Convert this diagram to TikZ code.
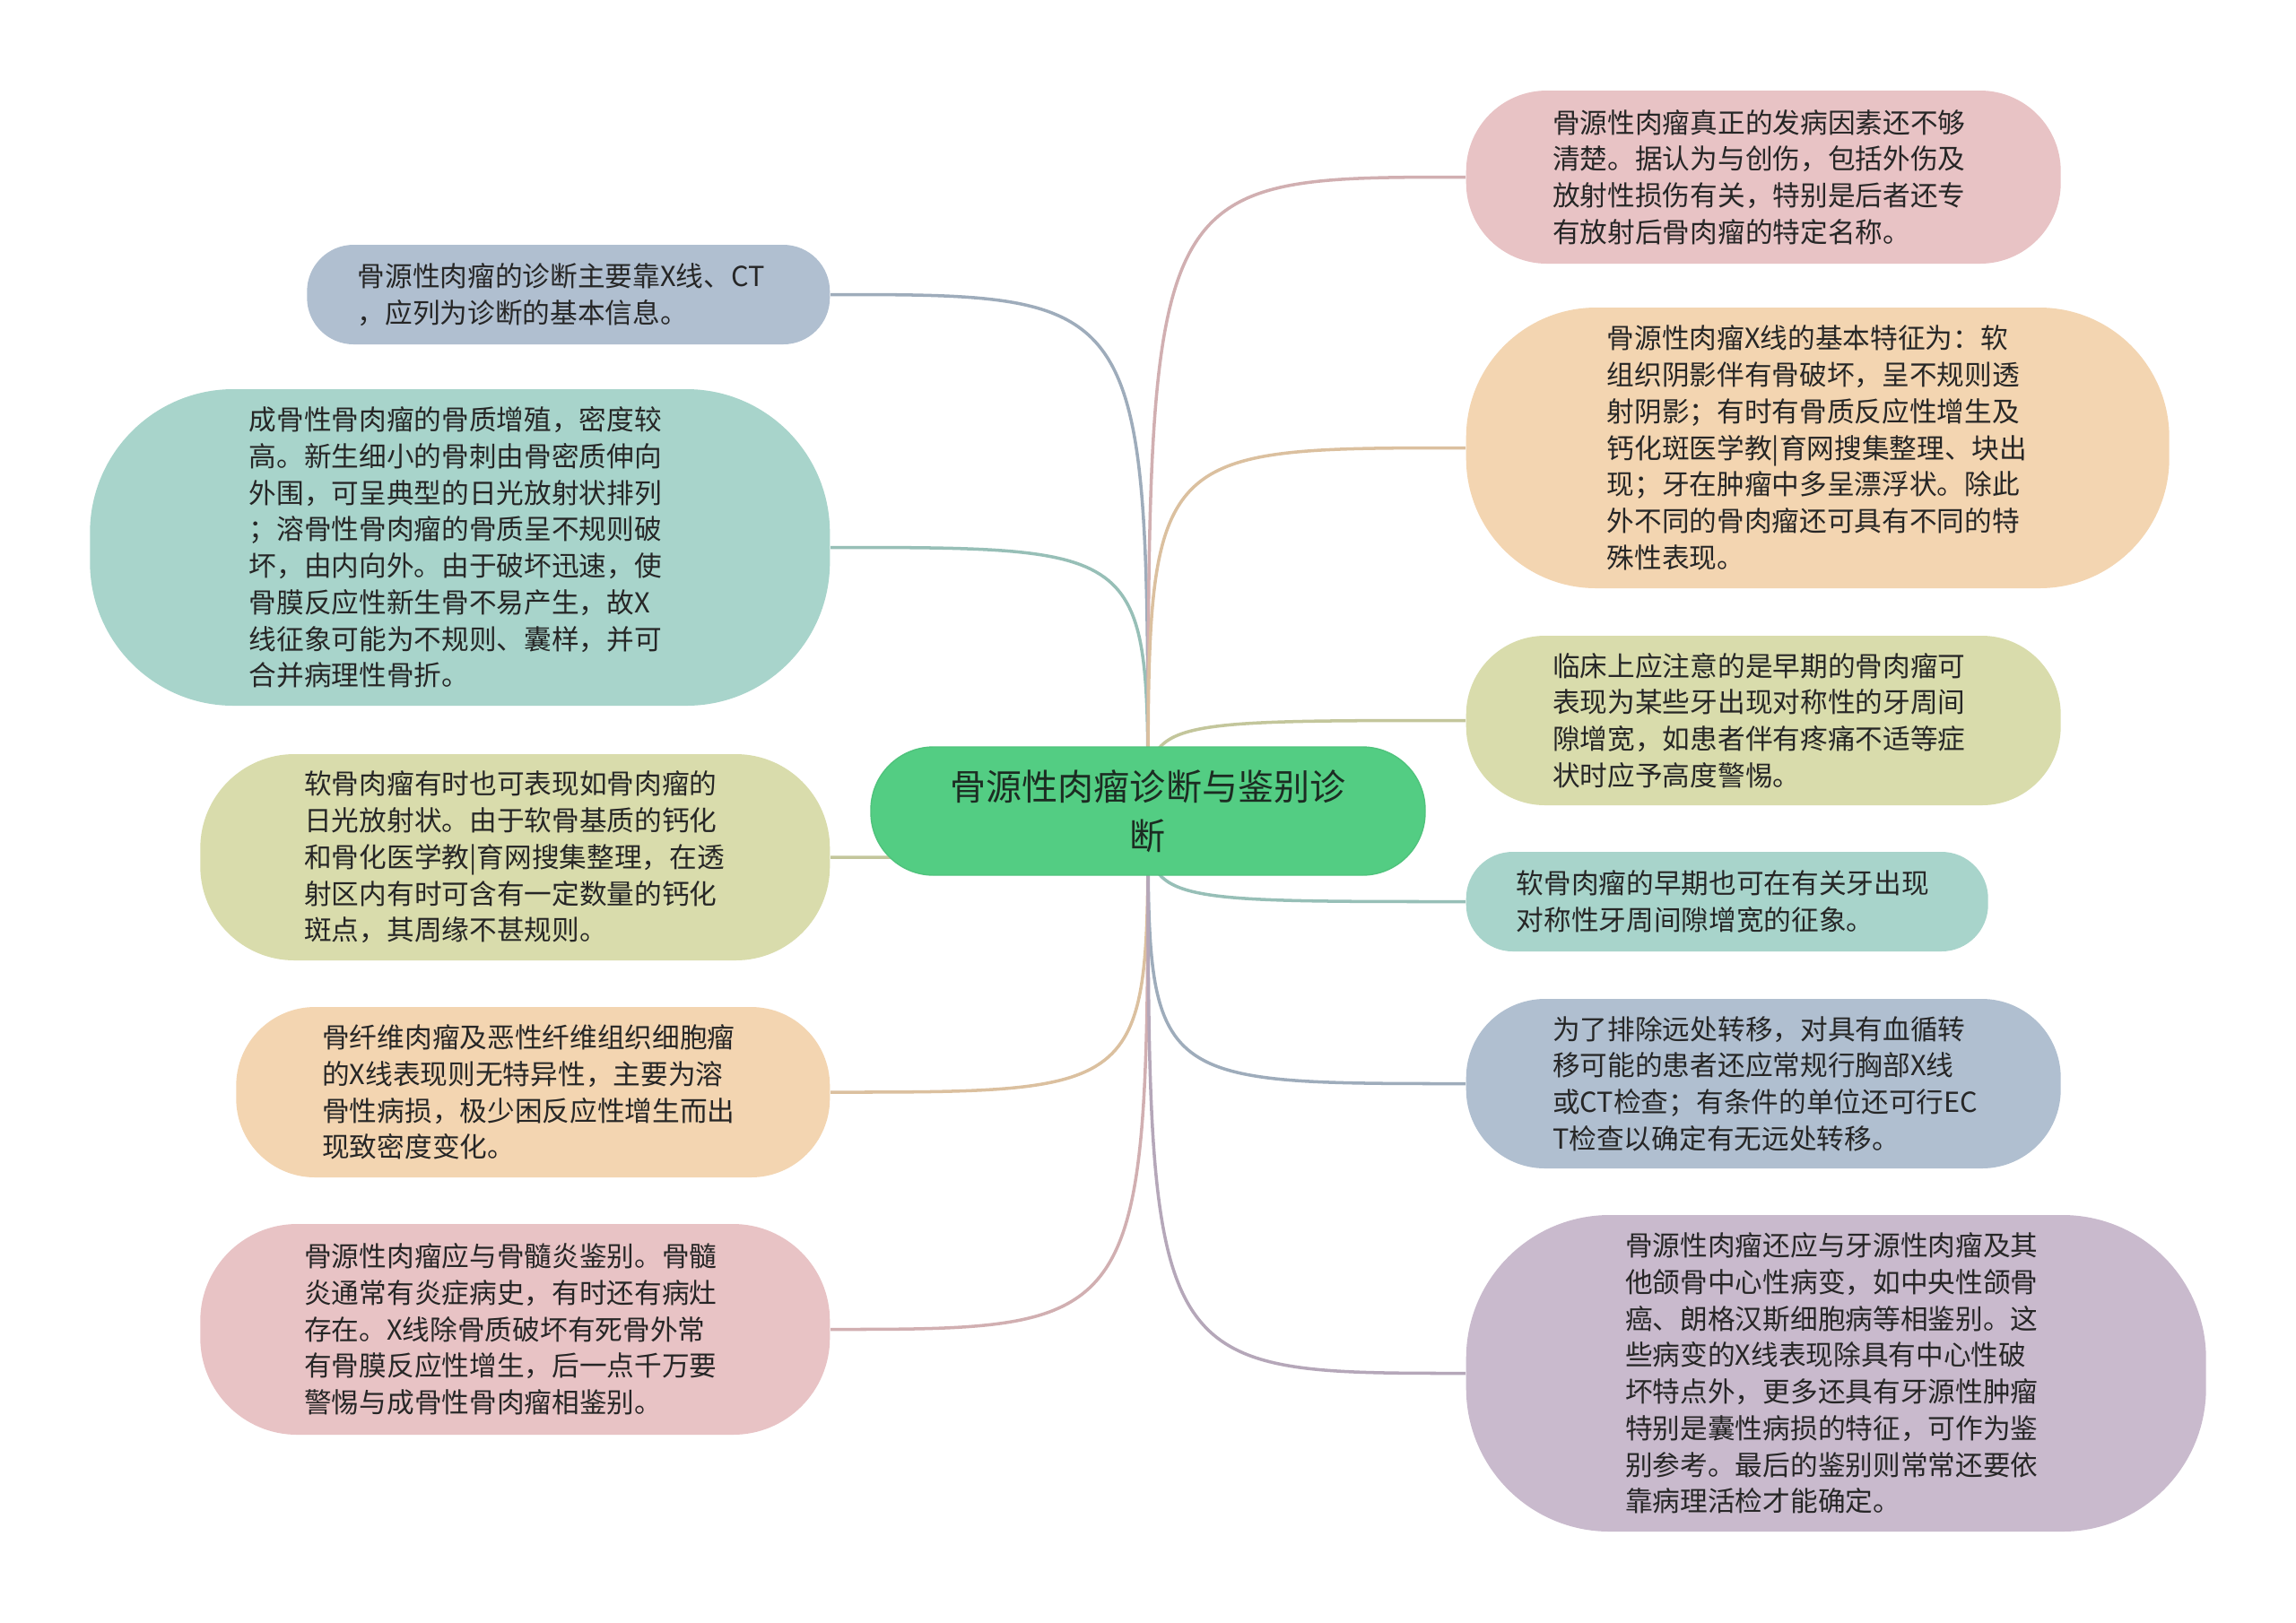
\documentclass[tikz,border=0pt]{standalone}
\usepackage{fontspec}
\usepackage{tikz}
\usetikzlibrary{positioning,backgrounds}
\newfontfamily\cjk{Noto Sans CJK SC}
\definecolor{cgreen}{RGB}{83,205,131}
\definecolor{cslate}{RGB}{176,191,208}
\definecolor{cteal}{RGB}{168,212,203}
\definecolor{colive}{RGB}{217,220,172}
\definecolor{cpeach}{RGB}{243,213,177}
\definecolor{cpink}{RGB}{232,195,197}
\definecolor{cmauve}{RGB}{201,186,205}
\definecolor{ctext}{RGB}{38,38,38}

\begin{document}
\begin{tikzpicture}[
    leaf/.style={rounded corners=#1, inner sep=0pt, align=left, text=ctext, text width=4.7cm,
                 font={\cjk\fontsize{8.73pt}{11.6pt}\selectfont}},
    leaf/.default=0.9cm,
    hub/.style={rounded corners=0.7cm, inner sep=0pt, align=center, fill=cgreen,
                draw=cgreen!95!black, line width=0.4pt, text={rgb,255:red,28;green,44;blue,34},
                minimum width=6.18cm, minimum height=1.43cm,
                font={\cjk\fontsize{11.4pt}{15.6pt}\selectfont}},
    link/.style={line width=1pt},
  ]
  % centre
  \node[hub] (hub) at (12.80,-9.045) {骨源性肉瘤诊断与鉴别诊\\断};

  % left side
  \node[leaf=0.52cm, fill=cslate, minimum width=5.83cm, minimum height=1.11cm, anchor=east] (ct) at (9.26,-3.285) {
    骨源性肉瘤的诊断主要靠X线、CT\\，应列为诊断的基本信息。};
  \node[leaf=1.6cm, fill=cteal, minimum width=8.25cm, minimum height=3.53cm, anchor=east] (osteo) at (9.26,-6.105) {
    成骨性骨肉瘤的骨质增殖，密度较\\高。新生细小的骨刺由骨密质伸向\\外围，可呈典型的日光放射状排列\\；溶骨性骨肉瘤的骨质呈不规则破\\坏，由内向外。由于破坏迅速，使\\骨膜反应性新生骨不易产生，故X\\线征象可能为不规则、囊样，并可\\合并病理性骨折。};
  \node[leaf=1.05cm, fill=colive, minimum width=7.02cm, minimum height=2.30cm, anchor=east] (chondro) at (9.26,-9.56) {
    软骨肉瘤有时也可表现如骨肉瘤的\\日光放射状。由于软骨基质的钙化\\和骨化医学教|育网搜集整理，在透\\射区内有时可含有一定数量的钙化\\斑点，其周缘不甚规则。};
  \node[leaf=0.88cm, fill=cpeach, minimum width=6.62cm, minimum height=1.90cm, anchor=east] (fibro) at (9.26,-12.18) {
    骨纤维肉瘤及恶性纤维组织细胞瘤\\的X线表现则无特异性，主要为溶\\骨性病损，极少困反应性增生而出\\现致密度变化。};
  \node[leaf=1.08cm, fill=cpink, minimum width=7.02cm, minimum height=2.35cm, anchor=east] (myelitis) at (9.26,-14.825) {
    骨源性肉瘤应与骨髓炎鉴别。骨髓\\炎通常有炎症病史，有时还有病灶\\存在。X线除骨质破坏有死骨外常\\有骨膜反应性增生，后一点千万要\\警惕与成骨性骨肉瘤相鉴别。};

  % right side
  \node[leaf=0.9cm, fill=cpink, minimum width=6.63cm, minimum height=1.93cm, anchor=west] (cause) at (16.34,-1.975) {
    骨源性肉瘤真正的发病因素还不够\\清楚。据认为与创伤，包括外伤及\\放射性损伤有关，特别是后者还专\\有放射后骨肉瘤的特定名称。};
  \node[leaf=1.45cm, fill=cpeach, minimum width=7.84cm, minimum height=3.13cm, anchor=west] (xray) at (16.34,-4.995) {
    骨源性肉瘤X线的基本特征为：软\\组织阴影伴有骨破坏，呈不规则透\\射阴影；有时有骨质反应性增生及\\钙化斑医学教|育网搜集整理、块出\\现；牙在肿瘤中多呈漂浮状。除此\\外不同的骨肉瘤还可具有不同的特\\殊性表现。};
  \node[leaf=0.88cm, fill=colive, minimum width=6.63cm, minimum height=1.89cm, anchor=west] (early) at (16.34,-8.035) {
    临床上应注意的是早期的骨肉瘤可\\表现为某些牙出现对称性的牙周间\\隙增宽，如患者伴有疼痛不适等症\\状时应予高度警惕。};
  \node[leaf=0.52cm, fill=cteal, minimum width=5.82cm, minimum height=1.11cm, anchor=west] (gap) at (16.34,-10.055) {
    软骨肉瘤的早期也可在有关牙出现\\对称性牙周间隙增宽的征象。};
  \node[leaf=0.88cm, fill=cslate, minimum width=6.63cm, minimum height=1.89cm, anchor=west] (meta) at (16.34,-12.085) {
    为了排除远处转移，对具有血循转\\移可能的患者还应常规行胸部X线\\或CT检查；有条件的单位还可行EC\\T检查以确定有无远处转移。};
  \node[leaf=1.6cm, fill=cmauve, minimum width=8.25cm, minimum height=3.53cm, anchor=west] (jaw) at (16.34,-15.315) {
    骨源性肉瘤还应与牙源性肉瘤及其\\他颌骨中心性病变，如中央性颌骨\\癌、朗格汉斯细胞病等相鉴别。这\\些病变的X线表现除具有中心性破\\坏特点外，更多还具有牙源性肿瘤\\特别是囊性病损的特征，可作为鉴\\别参考。最后的鉴别则常常还要依\\靠病理活检才能确定。};

  % links behind the boxes
  \begin{scope}[on background layer]
    \fill[white] (0,0) rectangle (25.6,-18.09);
    \draw[link, cslate!90!black] (hub.center) .. controls (hub.center |- ct.east) .. (ct.east);
    \draw[link, cteal!90!black] (hub.center) .. controls (hub.center |- osteo.east) .. (osteo.east);
    \draw[link, colive!90!black] (hub.center) .. controls (hub.center |- chondro.east) .. (chondro.east);
    \draw[link, cpeach!90!black] (hub.center) .. controls (hub.center |- fibro.east) .. (fibro.east);
    \draw[link, cpink!90!black] (hub.center) .. controls (hub.center |- myelitis.east) .. (myelitis.east);
    \draw[link, cpink!90!black] (hub.center) .. controls (hub.center |- cause.west) .. (cause.west);
    \draw[link, cpeach!90!black] (hub.center) .. controls (hub.center |- xray.west) .. (xray.west);
    \draw[link, colive!90!black] (hub.center) .. controls (hub.center |- early.west) .. (early.west);
    \draw[link, cteal!90!black] (hub.center) .. controls (hub.center |- gap.west) .. (gap.west);
    \draw[link, cslate!90!black] (hub.center) .. controls (hub.center |- meta.west) .. (meta.west);
    \draw[link, cmauve!90!black] (hub.center) .. controls (hub.center |- jaw.west) .. (jaw.west);
  \end{scope}
\end{tikzpicture}
\end{document}
